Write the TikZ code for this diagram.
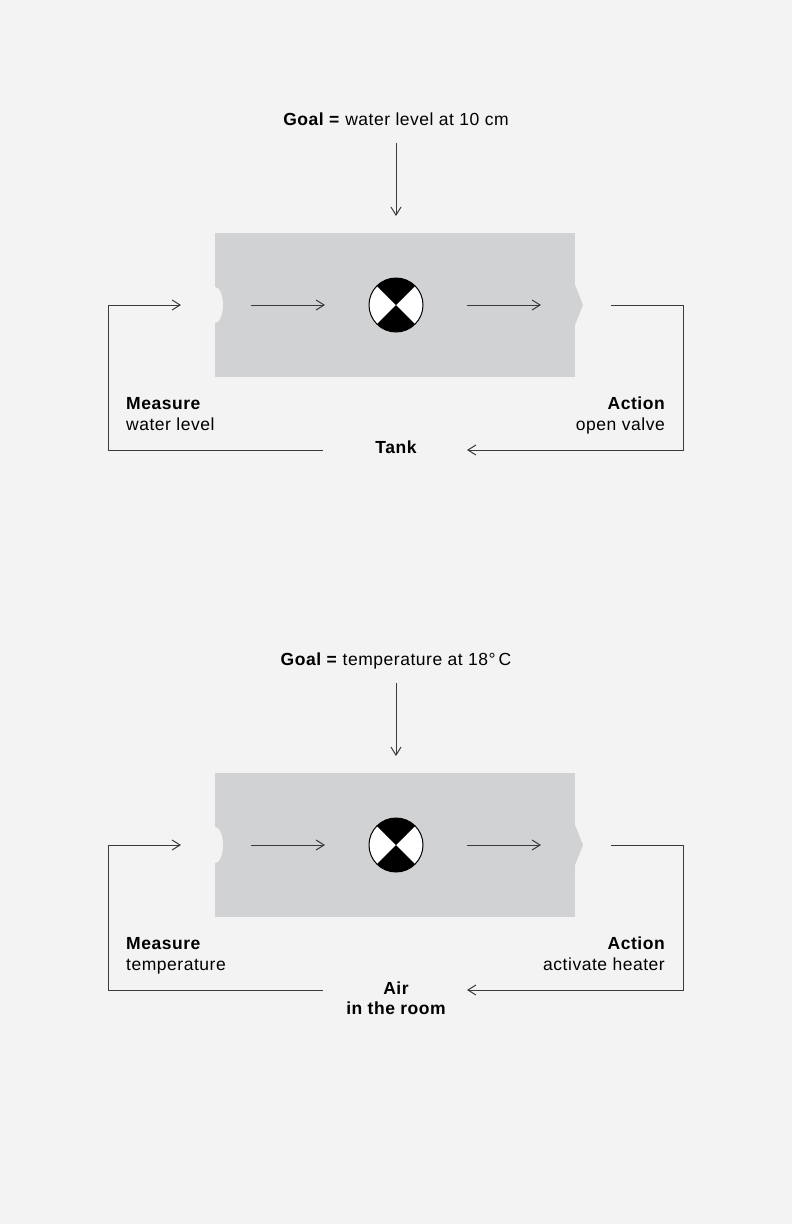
\documentclass[tikz,border=0pt]{standalone}
\usepackage{fontspec}
\setmainfont[LetterSpace=3]{Liberation Sans}
\usetikzlibrary{arrows.meta}
\definecolor{bg}{HTML}{F3F3F3}
\definecolor{boxgray}{HTML}{D1D2D4}
\definecolor{linec}{HTML}{3A3A3A}
\tikzset{
  conn/.style={draw=linec, line width=1pt},
  arr/.style={conn, -{Straight Barb[length=8pt,width=10pt,line width=1pt]}},
  lbl/.style={inner sep=0pt, font=\fontsize{17.5}{21}\selectfont},
  blbl/.style={inner sep=0pt, font=\fontsize{17.5}{21}\selectfont\bfseries},
  plant/.style={fill=boxgray, minimum width=360pt, minimum height=144pt, inner sep=0pt, anchor=north west},
  comparator/.style={circle, draw=black, fill=white, line width=1pt, minimum size=54pt, inner sep=0pt,
    path picture={
      \fill[black] (path picture bounding box.center) -- (path picture bounding box.north west) -- (path picture bounding box.north east) -- cycle;
      \fill[black] (path picture bounding box.center) -- (path picture bounding box.south west) -- (path picture bounding box.south east) -- cycle;
    }},
}
% #1 = vertical offset, #2 = name suffix, #3 = goal text, #4 = measure text, #5 = action text
\newcommand\loopdiagram[5]{%
  \begin{scope}[shift={(0,#1)}]
    \node[plant] (box#2) at (215,233) {};
    \fill[bg] (215,305) ellipse[x radius=8, y radius=18];
    \fill[boxgray] (575,285) -- (583,305) -- (575,325) -- cycle;
    \node[comparator] (cmp#2) at (396,305) {};
    \node[lbl, anchor=base] (goal#2) at (396,125) {\textbf{Goal =} #3};
    \coordinate (gs#2) at (396,143);
    \coordinate (ge#2) at (396,216);
    \draw[arr] (gs#2) -- (ge#2);
    \coordinate (a1#2) at (251,305);
    \coordinate (a2#2) at (325,305);
    \coordinate (b1#2) at (467,305);
    \coordinate (b2#2) at (541,305);
    \draw[arr] (a1#2) -- (a2#2);
    \draw[arr] (b1#2) -- (b2#2);
    % feedback (measure)
    \coordinate (ms#2) at (323,450);
    \coordinate (mc1#2) at (108,450);
    \coordinate (mc2#2) at (108,305);
    \coordinate (me#2) at (181,305);
    \draw[arr] (ms#2) -- (mc1#2) -- (mc2#2) -- (me#2);
    % action
    \coordinate (as#2) at (611,305);
    \coordinate (ac1#2) at (683,305);
    \coordinate (ac2#2) at (683,450);
    \coordinate (ae#2) at (467,450);
    \draw[arr] (as#2) -- (ac1#2) -- (ac2#2) -- (ae#2);
    \node[blbl, anchor=base west] (mt#2) at (126,409) {Measure};
    \node[lbl, anchor=base west] (mv#2) at (126,430) {#4};
    \node[blbl, anchor=base east] (at#2) at (665,409) {Action};
    \node[lbl, anchor=base east] (av#2) at (665,430) {#5};
  \end{scope}%
}
\begin{document}
\begin{tikzpicture}[x=1pt,y=-1pt]
  \fill[bg] (0,0) rectangle (792,1224);
  \useasboundingbox (0,0) rectangle (792,1224);
  \loopdiagram{0}{A}{water level at 10 cm}{water level}{open valve}
  \node[blbl, anchor=base] (objA) at (396,453) {Tank};
  \loopdiagram{540}{B}{temperature at 18°\,C}{temperature}{activate heater}
  \node[blbl, anchor=base] (objB1) at (396,994) {Air};
  \node[blbl, anchor=base] (objB2) at (396,1014) {in the room};
\end{tikzpicture}
\end{document}
